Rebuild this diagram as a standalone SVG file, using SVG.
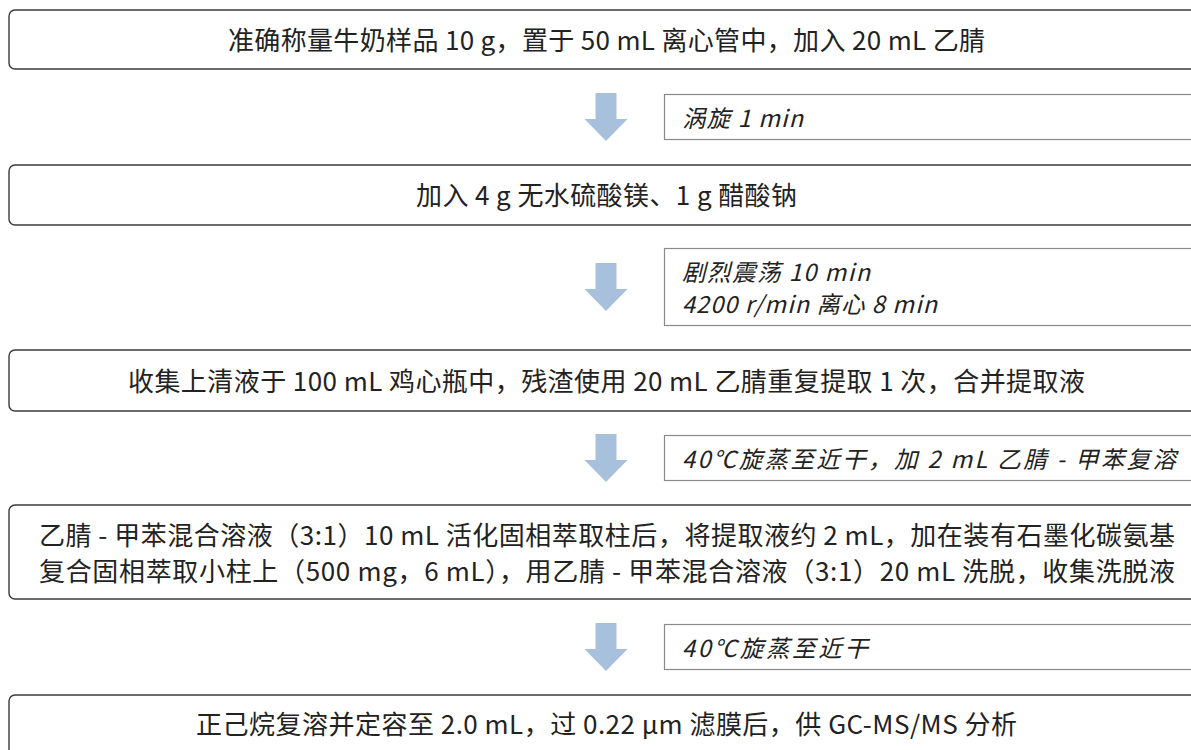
<svg xmlns="http://www.w3.org/2000/svg" width="1191" height="750" viewBox="0 0 1191 750">
<style>
.main{fill:#fff;stroke:#3a3a3a;stroke-width:1.4}
.side{fill:#fff;stroke:#8a8a8a;stroke-width:1.2}
.t{font-family:"Noto Sans CJK SC","Noto Sans",sans-serif;font-size:26px;fill:#222}
.i{font-style:italic;font-size:23.5px}
.arr{fill:#a7c0dc}
</style>
<defs>
<path id="arrow" d="M-10.5,0 H10.5 V26 H21.5 L0,48 L-21.5,26 H-10.5 Z"/>
</defs>
<rect width="1191" height="750" fill="#fff"/>
<g id="connectors">
<use href="#arrow" class="arr" x="606" y="93"/>
<use href="#arrow" class="arr" x="606" y="263"/>
<use href="#arrow" class="arr" x="606" y="434"/>
<use href="#arrow" class="arr" x="606" y="623"/>
</g>
<g id="step1">
<rect class="main" x="9" y="10" width="1200" height="59" rx="6"/>
<text class="t" x="228" y="50" textLength="757" lengthAdjust="spacing">准确称量牛奶样品 10 g，置于 50 mL 离心管中，加入 20 mL 乙腈</text>
</g>
<g id="note1">
<rect class="side" x="664.5" y="94.5" width="540" height="45"/>
<text class="t i" x="682" y="127" textLength="121" lengthAdjust="spacing">涡旋 1 min</text>
</g>
<g id="step2">
<rect class="main" x="9" y="165" width="1200" height="60" rx="6"/>
<text class="t" x="416" y="205" textLength="381" lengthAdjust="spacing">加入 4 g 无水硫酸镁、1 g 醋酸钠</text>
</g>
<g id="note2">
<rect class="side" x="664.5" y="248.5" width="540" height="77"/>
<text class="t i" x="682" y="281" textLength="188" lengthAdjust="spacing">剧烈震荡 10 min</text>
<text class="t i" x="682" y="313" textLength="255" lengthAdjust="spacing">4200 r/min 离心 8 min</text>
</g>
<g id="step3">
<rect class="main" x="9" y="350" width="1200" height="61" rx="6"/>
<text class="t" x="128" y="391" textLength="957" lengthAdjust="spacing">收集上清液于 100 mL 鸡心瓶中，残渣使用 20 mL 乙腈重复提取 1 次，合并提取液</text>
</g>
<g id="note3">
<rect class="side" x="664.5" y="435.5" width="540" height="45"/>
<text class="t i" x="682" y="468" textLength="494" lengthAdjust="spacing">40℃旋蒸至近干，加 2 mL 乙腈 - 甲苯复溶</text>
</g>
<g id="step4">
<rect class="main" x="9" y="505" width="1200" height="94" rx="6"/>
<text class="t" x="39" y="545" textLength="1136" lengthAdjust="spacing">乙腈 - 甲苯混合溶液（3:1）10 mL 活化固相萃取柱后，将提取液约 2 mL，加在装有石墨化碳氨基</text>
<text class="t" x="39" y="581" textLength="1136" lengthAdjust="spacing">复合固相萃取小柱上（500 mg，6 mL），用乙腈 - 甲苯混合溶液（3:1）20 mL 洗脱，收集洗脱液</text>
</g>
<g id="note4">
<rect class="side" x="664.5" y="624.5" width="540" height="45"/>
<text class="t i" x="682" y="657" textLength="186" lengthAdjust="spacing">40℃旋蒸至近干</text>
</g>
<g id="step5">
<rect class="main" x="9" y="695" width="1200" height="80" rx="6"/>
<text class="t" x="196" y="734" textLength="821" lengthAdjust="spacing">正己烷复溶并定容至 2.0 mL，过 0.22 μm 滤膜后，供 GC-MS/MS 分析</text>
</g>
</svg>
